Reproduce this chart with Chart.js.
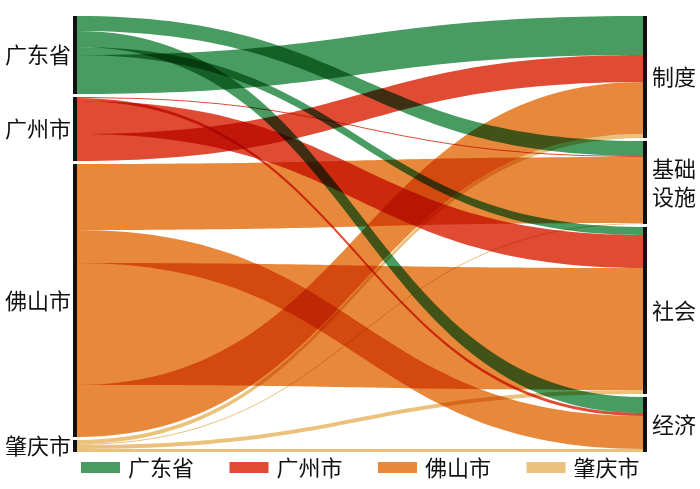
<!DOCTYPE html>
<html>
<head>
<meta charset="utf-8">
<script src="https://cdn.jsdelivr.net/npm/chart.js@4.4.0/dist/chart.umd.min.js"></script>
<style>
  html, body { margin: 0; padding: 0; background: #fff; }
  #wrap { width: 700px; height: 489px; }
</style>
</head>
<body>
<div id="wrap"><canvas id="sankey"></canvas></div>
<script>
const sources = ['广东省', '广州市', '佛山市', '肇庆市']
const targets = ['制度', '基础设施', '社会', '经济']

// ribbon sizes from each source to 制度 / 基础设施 / 社会 / 经济
const guangdong = [39, 15, 8, 16]
const guangzhou = [27, 1, 33, 3]
const foshan = [52, 66, 122, 33]
const zhaoqing = [4, 1, 4, 3]
const flows = [guangdong, guangzhou, foshan, zhaoqing]

// stacking order of ribbons on each source bar (target index, top to bottom)
const sourceOrder = [[1, 3, 2, 0], [1, 3, 2, 0], [1, 3, 2, 0], [0, 1, 2, 3]]

const colors = ['#489c62', '#df4b33', '#e8883a', '#ebc27c']
const GAP = 3
const FONT = '22px "Noto Sans CJK SC", "Noto Sans", sans-serif'

const sum = a => a.reduce((s, v) => s + v, 0)
const srcTotals = flows.map(sum)
const tgtTotals = targets.map((_, j) => sum(flows.map(f => f[j])))
const total = sum(srcTotals) + GAP * (sources.length - 1)

function starts(totals) {
  let pos = 0
  return totals.map(t => { const s = pos; pos += t + GAP; return s })
}
const srcStart = starts(srcTotals)
const tgtStart = starts(tgtTotals)

// link positions (value units) on both sides
const links = []
sources.forEach((_, i) => {
  let off = srcStart[i]
  sourceOrder[i].forEach(j => {
    links.push({ s: i, t: j, v: flows[i][j], y0: off })
    off += flows[i][j]
  })
})
targets.forEach((_, j) => {
  let off = tgtStart[j]
  sources.forEach((_, i) => {
    const l = links.find(k => k.s === i && k.t === j)
    l.y1 = off
    off += l.v
  })
})

const sankeyPlugin = {
  id: 'sankey',
  afterDatasetsDraw(chart) {
    const { ctx, scales: { x, y } } = chart
    const x0 = x.getPixelForValue(0)
    const x1 = x.getPixelForValue(1)
    const xm = (x0 + x1) / 2

    // ribbons, multiplied so crossings darken like the original
    ctx.save()
    ctx.globalCompositeOperation = 'multiply'
    links.forEach(l => {
      if (!l.v) return
      const a0 = y.getPixelForValue(l.y0), b0 = y.getPixelForValue(l.y0 + l.v)
      const a1 = y.getPixelForValue(l.y1), b1 = y.getPixelForValue(l.y1 + l.v)
      ctx.beginPath()
      ctx.moveTo(x0, a0)
      ctx.bezierCurveTo(xm, a0, xm, a1, x1, a1)
      ctx.lineTo(x1, b1)
      ctx.bezierCurveTo(xm, b1, xm, b0, x0, b0)
      ctx.closePath()
      ctx.fillStyle = colors[l.s]
      ctx.fill()
    })
    ctx.restore()

    // node bars
    ctx.save()
    ctx.fillStyle = '#111'
    sources.forEach((_, i) => {
      const top = y.getPixelForValue(srcStart[i])
      const bot = y.getPixelForValue(srcStart[i] + srcTotals[i])
      ctx.fillRect(x0 - 4, top, 4, bot - top)
    })
    targets.forEach((_, j) => {
      const top = y.getPixelForValue(tgtStart[j])
      const bot = y.getPixelForValue(tgtStart[j] + tgtTotals[j])
      ctx.fillRect(x1, top, 4, bot - top)
    })

    // node labels
    ctx.font = FONT
    ctx.fillStyle = '#111'
    ctx.textBaseline = 'middle'
    ctx.textAlign = 'right'
    sources.forEach((name, i) => {
      const mid = y.getPixelForValue(srcStart[i] + srcTotals[i] / 2)
      ctx.fillText(name, x0 - 6, mid)
    })
    ctx.textAlign = 'left'
    targets.forEach((name, j) => {
      const mid = y.getPixelForValue(tgtStart[j] + tgtTotals[j] / 2)
      if (name.length > 2) {
        ctx.fillText(name.slice(0, 2), x1 + 9, mid - 14)
        ctx.fillText(name.slice(2), x1 + 9, mid + 14)
      } else {
        ctx.fillText(name, x1 + 9, mid)
      }
    })

    // legend row
    chart.data.datasets.forEach((ds, i) => {
      const bx = 81 + i * 148.5
      ctx.fillStyle = ds.backgroundColor
      ctx.fillRect(bx, 462, 39, 11)
      ctx.fillStyle = '#111'
      ctx.fillText(ds.label, bx + 47, 468)
    })
    ctx.restore()
  }
}

new Chart(document.getElementById('sankey'), {
  type: 'scatter',
  data: {
    datasets: sources.map((name, i) => ({
      label: name,
      data: [],
      backgroundColor: colors[i],
      borderWidth: 0
    }))
  },
  options: {
    responsive: true,
    maintainAspectRatio: false,
    animation: false,
    layout: { padding: { left: 77, right: 57, top: 16, bottom: 37 } },
    plugins: { legend: { display: false }, tooltip: { enabled: false } },
    scales: {
      x: { type: 'linear', min: 0, max: 1, display: false },
      y: { type: 'linear', min: 0, max: total, reverse: true, display: false }
    }
  },
  plugins: [sankeyPlugin]
})
</script>
</body>
</html>
